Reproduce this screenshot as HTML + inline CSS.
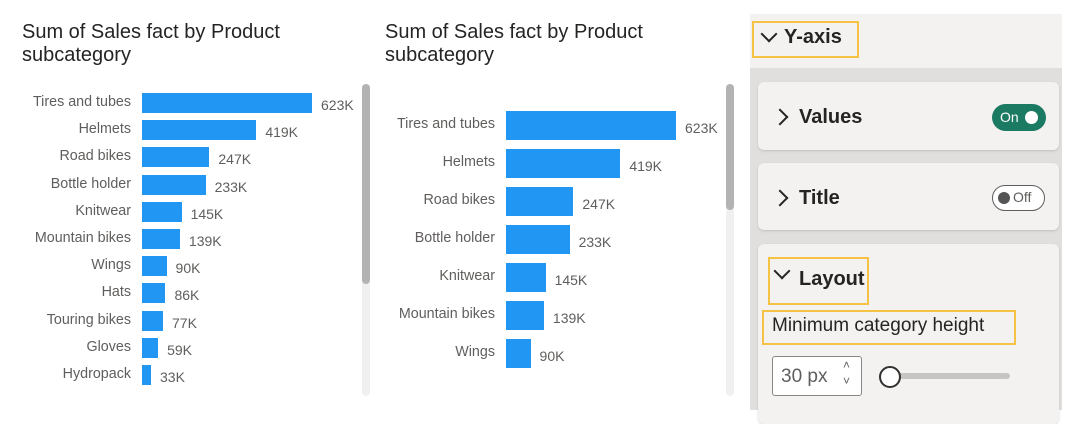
<!DOCTYPE html>
<html><head><style>
body{margin:0;width:1068px;height:410px;background:#fff;position:relative;overflow:hidden;font-family:"Liberation Sans",sans-serif}
.a{position:absolute}
.t{font-size:20px;color:#252423;line-height:23px}
.l{font-size:14.3px;color:#605e5c;text-align:right;white-space:nowrap}
.v{font-size:14px;color:#605e5c;white-space:nowrap}
.b{background:#2196f3;position:absolute}
.card{position:absolute;left:758px;width:301px;background:#f3f2f1;border-radius:6px;box-shadow:0 1px 2px rgba(0,0,0,.15)}
.hl{position:absolute;border:2px solid #f6c244}
.ct{font-size:20px;color:#252423;font-weight:bold}
.chev{position:absolute;width:10px;height:10px;border-right:2px solid #252423;border-bottom:2px solid #252423}
</style></head><body>
<div class="a t" style="left:22px;top:21px">Sum of Sales fact by Product<br>subcategory</div>
<div class="a t" style="left:385px;top:21px">Sum of Sales fact by Product<br>subcategory</div>

<div id="L"></div>
<div class="a" style="left:362px;top:84px;width:8px;height:312px;background:#f0f0f0;border-radius:4px"></div>
<div class="a" style="left:362px;top:84px;width:8px;height:200px;background:#b3b3b3;border-radius:4px"></div>
<div class="a" style="left:726px;top:84px;width:8px;height:312px;background:#f0f0f0;border-radius:4px"></div>
<div class="a" style="left:726px;top:84px;width:8px;height:126px;background:#b3b3b3;border-radius:4px"></div>

<div class="a" style="left:750px;top:14px;width:312px;height:54px;background:#f3f2f1"></div>
<div class="a" style="left:750px;top:68px;width:312px;height:342px;background:#e1dfdd"></div>
<div class="hl" style="left:752px;top:21px;width:103px;height:33px"></div>
<div class="chev" style="left:763px;top:28px;transform:rotate(45deg)"></div>
<div class="a ct" style="left:784px;top:26px">Y-axis</div>
<div class="card" style="top:82px;height:68px"></div>
<div class="chev" style="left:774px;top:111px;transform:rotate(-45deg)"></div>
<div class="a ct" style="left:799px;top:106px">Values</div>
<div class="a" style="left:992px;top:104px;width:54px;height:27px;background:#1b7a62;border-radius:14px"></div>
<div class="a" style="left:1000px;top:109px;color:#fff;font-size:14px">On</div>
<div class="a" style="left:1025px;top:111px;width:13px;height:13px;background:#fff;border-radius:50%"></div>
<div class="card" style="top:163px;height:67px"></div>
<div class="chev" style="left:774px;top:192px;transform:rotate(-45deg)"></div>
<div class="a ct" style="left:799px;top:187px">Title</div>
<div class="a" style="left:992px;top:185px;width:51px;height:24px;border:1.5px solid #605e5c;border-radius:14px;background:#fff"></div>
<div class="a" style="left:998px;top:192px;width:12px;height:12px;background:#555;border-radius:50%"></div>
<div class="a" style="left:1013px;top:189px;color:#605e5c;font-size:14px">Off</div>
<div class="card" style="top:244px;height:180px"></div>
<div class="hl" style="left:768px;top:257px;width:97px;height:44px"></div>
<div class="chev" style="left:776px;top:265px;transform:rotate(45deg)"></div>
<div class="a ct" style="left:799px;top:268px">Layout</div>
<div class="hl" style="left:762px;top:310px;width:250px;height:31px"></div>
<div class="a" style="left:772px;top:315px;font-size:19px;color:#252423">Minimum category height</div>
<div class="a" style="left:772px;top:356px;width:88px;height:38px;border:1px solid #8a8886;border-radius:3px;background:#fff"></div>
<div class="a" style="left:781px;top:366px;font-size:19px;color:#605e5c">30 px</div>
<div class="a" style="left:843px;top:357px;font-size:12px;color:#605e5c;line-height:16px">&#708;<br>&#709;</div>
<div class="a" style="left:880px;top:373px;width:130px;height:6px;background:#c8c6c4;border-radius:3px"></div>
<div class="a" style="left:879px;top:366px;width:18px;height:18px;border:2px solid #323130;border-radius:50%;background:#fff"></div>

<script>
var d=[["Tires and tubes",623],["Helmets",419],["Road bikes",247],["Bottle holder",233],["Knitwear",145],["Mountain bikes",139],["Wings",90],["Hats",86],["Touring bikes",77],["Gloves",59],["Hydropack",33]];
var h="";
d.forEach(function(r,i){var w=r[1]/623*170,y=93+i*27.2;
h+='<div class="b" style="left:142px;top:'+y+'px;width:'+w+'px;height:20px"></div>';
h+='<div class="a l" style="right:937px;top:'+(y+1)+'px">'+r[0]+'</div>';
h+='<div class="a v" style="left:'+(142+w+9)+'px;top:'+(y+4)+'px">'+r[1]+'K</div>';
if(i<7){var y2=111+i*38;
h+='<div class="b" style="left:506px;top:'+y2+'px;width:'+w+'px;height:29px"></div>';
h+='<div class="a l" style="right:573px;top:'+(y2+5)+'px">'+r[0]+'</div>';
h+='<div class="a v" style="left:'+(506+w+9)+'px;top:'+(y2+9)+'px">'+r[1]+'K</div>';}
});
document.getElementById("L").innerHTML=h;
</script>
</body></html>
